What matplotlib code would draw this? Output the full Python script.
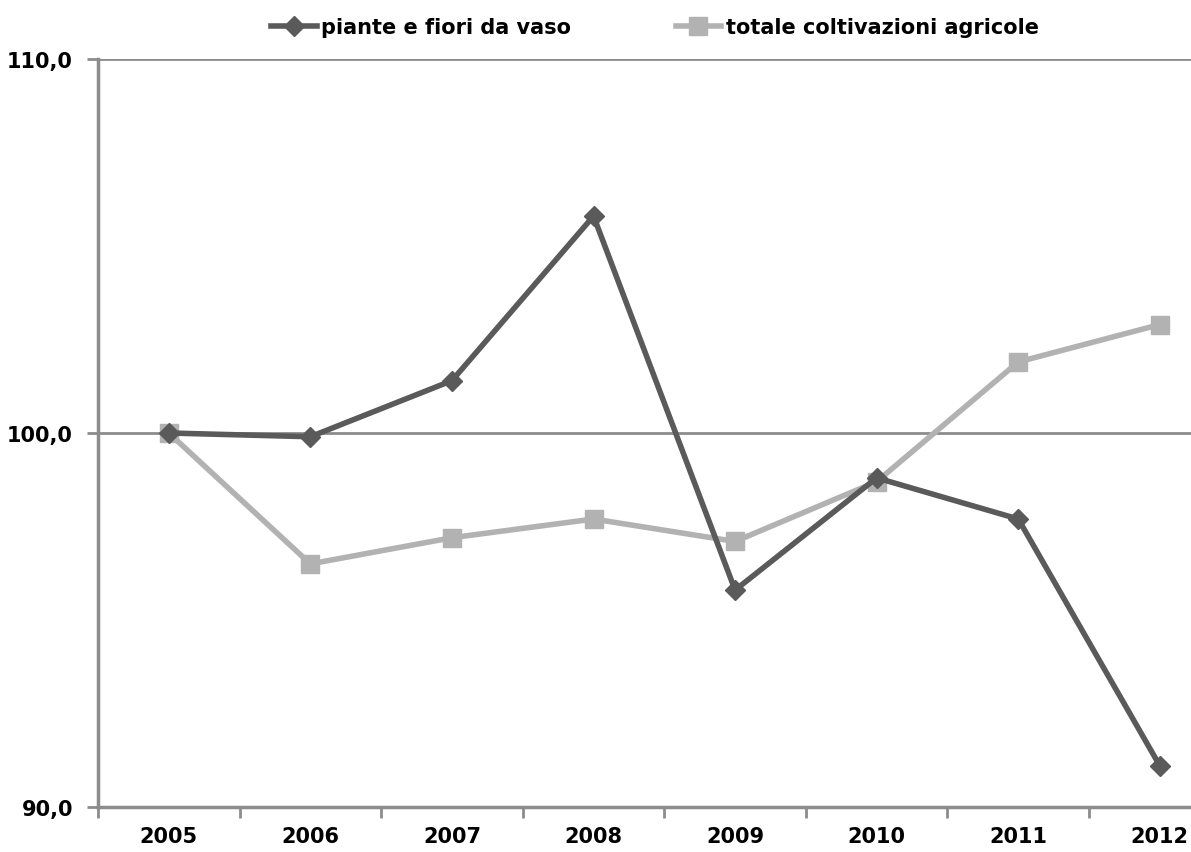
import numpy as np
import matplotlib.pyplot as plt

years = ['2005', '2006', '2007', '2008', '2009', '2010', '2011', '2012']
piante_fiori = [100.0, 99.9, 101.4, 105.8, 95.8, 98.8, 97.7, 91.1]
totale_coltivazioni = [100.0, 96.5, 97.2, 97.7, 97.1, 98.7, 101.9, 102.9]
y_ticks = [90.0, 100.0, 110.0]

plt.rcParams['font.family'] = ['Liberation Sans Narrow', 'DejaVu Sans']

fig = plt.figure(figsize=(11.91, 8.53), dpi=100)
ax = fig.add_axes([98 / 1191, 1 - 808 / 853, 1 - 98 / 1191, (808 - 60) / 853])

x = np.arange(len(years))
ax.plot(x, piante_fiori, color='#5a5a5a', lw=4, marker='D', ms=10,
        label='piante e fiori da vaso', zorder=3)
ax.plot(x, totale_coltivazioni, color='#b2b2b2', lw=4, marker='s', ms=13,
        label='totale coltivazioni agricole', zorder=2)

ax.set_xlim(-0.5, 7.22)
ax.set_ylim(90, 110)
ax.set_yticks(y_ticks)
ax.set_yticklabels([f'{v:.1f}'.replace('.', ',') for v in y_ticks],
                   fontsize=15, fontweight='bold')
ax.set_xticks(x)
ax.set_xticklabels(years, fontsize=15, fontweight='bold')
ax.set_xticks(np.arange(len(years)) - 0.5, minor=True)
ax.tick_params(axis='x', which='major', length=0, pad=14)
ax.tick_params(axis='x', which='minor', length=8, width=2, color='#8c8c8c')
ax.tick_params(axis='y', length=8, width=2, color='#8c8c8c', pad=10)

ax.grid(axis='y', color='#8c8c8c', lw=2)
ax.set_axisbelow(True)
for s in ['top', 'right']:
    ax.spines[s].set_visible(False)
for s in ['left', 'bottom']:
    ax.spines[s].set_color('#8c8c8c')
    ax.spines[s].set_linewidth(2.5)

fig.legend(loc='center', bbox_to_anchor=(655 / 1191, 1 - 28 / 853), ncol=2,
           frameon=False, prop={'size': 15, 'weight': 'bold'},
           handlelength=2.2, columnspacing=5, handletextpad=0.2)

fig.savefig('out.png', dpi=100)
